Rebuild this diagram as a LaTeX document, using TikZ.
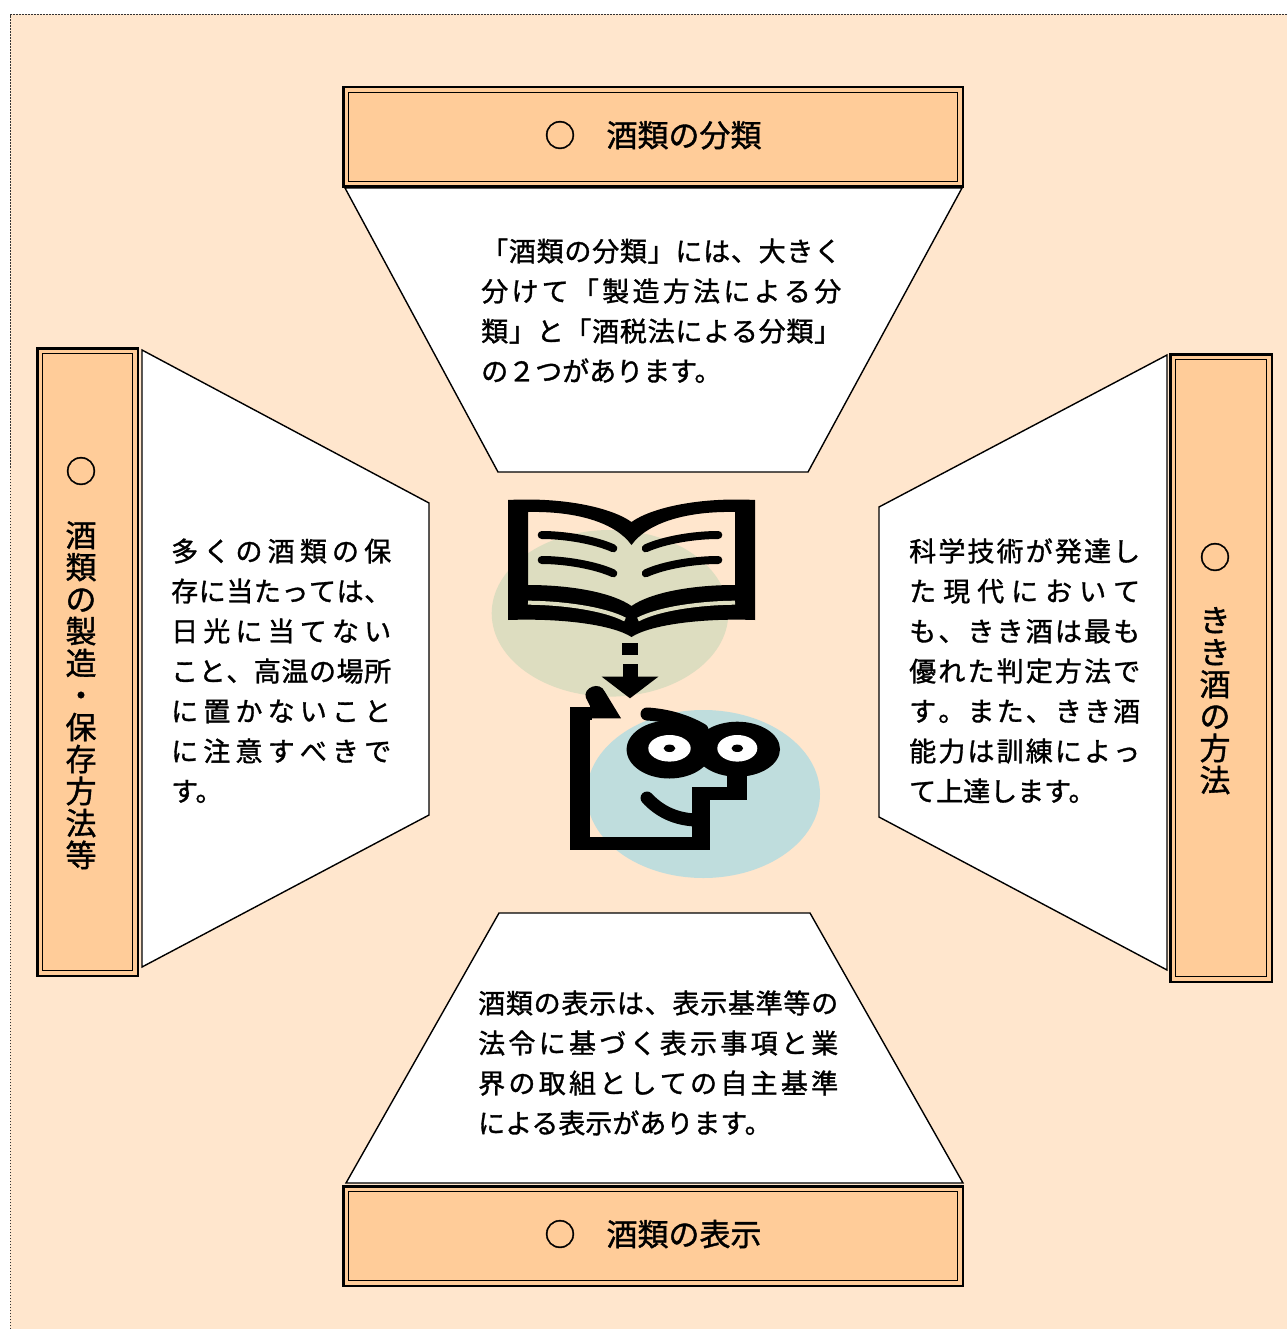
\documentclass[tikz,border=0pt]{standalone}
\usepackage{fontspec}
\newfontfamily\jp[FakeBold=1.2]{Noto Sans CJK JP}
\definecolor{bgpeach}{RGB}{255,230,205}
\definecolor{boxorange}{RGB}{255,204,153}
\definecolor{ellgreen}{RGB}{221,221,192}
\definecolor{ellblue}{RGB}{191,221,221}
\def\SPx#1{#1\futurelet\SPnext\SPy}
\def\SPy{\ifx\SPnext\SPend\expandafter\SPgobble\else\hfill\expandafter\SPx\fi}
\def\SPgobble#1{}
\def\SPend{\SPend}
\newcommand\spr[2]{\hbox to #1{\SPx#2\SPend}}
\begin{document}
\begin{tikzpicture}[x=1pt,y=-1pt,
  body/.style={font=\jp\fontsize{27}{40}\selectfont, inner sep=0pt, anchor=west, text height=23.8pt, text depth=3.2pt},
  vchar/.style={font=\jp\fontsize{31}{32}\selectfont, inner sep=0pt, text height=27.3pt, text depth=3.7pt},
  titlebox/.style={draw=black, line width=2.5pt, fill=boxorange, inner sep=0pt, outer sep=0pt, font=\jp\fontsize{31}{32}\selectfont, text height=27.3pt, text depth=7.7pt},
  panel/.style={fill=white, draw=black, line width=1.4pt, line join=miter},
  innerframe/.style={draw=black, line width=1.3pt},
]
\useasboundingbox (0,0) rectangle (1287,1329);
% background
\fill[bgpeach] (10,14) rectangle (1287,1329);
\draw[black!80, line width=1.2pt, dash pattern=on 1.5pt off 1.5pt] (10.6,1329) -- (10.6,14.6) -- (1287,14.6);

% panels
\draw[panel] (345,188) -- (962,188) -- (808,472) -- (498,472) -- cycle;
\draw[panel] (142,350) -- (429,503) -- (429,815) -- (142,967) -- cycle;
\draw[panel] (1167,355) -- (879,507) -- (879,817) -- (1167,970) -- cycle;
\draw[panel] (499,913) -- (810,913) -- (963,1183) -- (346,1183) -- cycle;

% title boxes
\node[titlebox, minimum width=619.5pt, minimum height=99.5pt] (tb) at (653,137) {○　酒類の分類};
\draw[innerframe] ([xshift=5.2pt,yshift=-5.2pt]tb.north west) rectangle ([xshift=-5.2pt,yshift=5.2pt]tb.south east);
\node[titlebox, minimum width=619.5pt, minimum height=99.5pt] (bb) at (653,1236) {○　酒類の表示};
\draw[innerframe] ([xshift=5.2pt,yshift=-5.2pt]bb.north west) rectangle ([xshift=-5.2pt,yshift=5.2pt]bb.south east);
\node[titlebox, minimum width=100.5pt, minimum height=627.5pt] (lb) at (87.5,662) {};
\draw[innerframe] ([xshift=5.2pt,yshift=-5.2pt]lb.north west) rectangle ([xshift=-5.2pt,yshift=5.2pt]lb.south east);
\node[titlebox, minimum width=101.5pt, minimum height=627.5pt] (rb) at (1221,668) {};
\draw[innerframe] ([xshift=5.2pt,yshift=-5.2pt]rb.north west) rectangle ([xshift=-5.2pt,yshift=5.2pt]rb.south east);

% vertical titles
\node[vchar] (lo) at (81,471) {○};
\foreach \c [count=\i] in {酒,類,の,製,造,・,保,存,方,法,等}
  \node[vchar] (l\i) at (81,{535+32*(\i-1)}) {\c};
\node[vchar] (ro) at (1215,557) {○};
\foreach \c [count=\i] in {き,き,酒,の,方,法}
  \node[vchar] (r\i) at (1215,{620+32*(\i-1)}) {\c};

% background ellipses of the clipart
\fill[ellgreen] (610,613.3) ellipse [x radius=118.3pt, y radius=83.3pt];
\fill[ellblue] (703.3,794) ellipse [x radius=116.7pt, y radius=84pt];

% book
\fill[black, even odd rule]
  (508,500) .. controls (565,497) and (612,508) .. (631.5,522)
  .. controls (651,508) and (698,497) .. (755,500) -- (755,620)
  .. controls (700,618) and (650,625) .. (631.5,637)
  .. controls (613,625) and (563,618) .. (508,620) -- cycle
  (528,512) .. controls (575,511) and (615,522) .. (631.5,545)
  .. controls (648,522) and (688,511) .. (735,512) -- (735,585)
  .. controls (690,585) and (650,593) .. (631.5,606)
  .. controls (613,593) and (573,585) .. (528,585) -- cycle;
\draw[ellgreen, line width=4pt] (528,602.7) .. controls (565,603) and (605,609) .. (625,619.5);
\draw[ellgreen, line width=4pt] (638,619.5) .. controls (658,609) and (698,603) .. (735,602.7);
\draw[line width=8pt, line cap=round] (541.7,535) .. controls (565,535) and (595,540) .. (613.3,548.3);
\draw[line width=8pt, line cap=round] (541.7,560) .. controls (565,560) and (595,565) .. (613.3,573.3);
\draw[line width=8pt, line cap=round] (645.7,548.3) .. controls (664,540) and (694,535) .. (718.3,535);
\draw[line width=8pt, line cap=round] (645.7,573.3) .. controls (664,565) and (694,560) .. (718.3,560);

% arrow
\fill (622,643.3) rectangle (638.3,655);
\fill (622.7,664) rectangle (638.3,677);
\fill (601.7,676.7) -- (658.3,676.7) -- (630,698.3) -- cycle;

% face
\fill (570,706.7) rectangle (590,850);
\fill (570,836.7) rectangle (710,850);
\fill (691.7,786.7) rectangle (710,850);
\fill (691.7,786.7) rectangle (746.7,800);
\fill (726.7,765) rectangle (746.7,800);
\fill (570,706.7) rectangle (592,720);
\fill (586,698) .. controls (582,688) and (600,680) .. (605,692) -- (621,718.3) -- (592,718.3) -- (590,706) -- cycle;
\fill (669.3,749.5) ellipse [x radius=42.7pt, y radius=29pt];
\fill (737.3,749.2) ellipse [x radius=42.7pt, y radius=27.5pt];
\fill[white] (669.5,748.3) ellipse [x radius=21.2pt, y radius=13.3pt];
\fill[white] (737.3,748.3) ellipse [x radius=20pt, y radius=13.3pt];
\fill (669.5,748.3) ellipse [x radius=5.8pt, y radius=3.7pt];
\fill (737.3,748.3) ellipse [x radius=5.8pt, y radius=3.7pt];
\draw[line width=13pt, line cap=round] (647,714) .. controls (665,715) and (685,720) .. (702,730);
\draw[line width=13pt, line cap=round] (647,798) .. controls (660,812) and (676,819) .. (695,820);

% top text
\node[body] (t1) at (481,251) {\spr{360pt}{「酒類の分類」には、大きく}};
\node[body] (t2) at (481,291) {\spr{360pt}{分けて「製造方法による分}};
\node[body] (t3) at (481,331) {\spr{360pt}{類」と「酒税法による分類」}};
\node[body] (t4) at (481,371) {の２つがあります。};

% left text
\node[body] (a1) at (171,551) {\spr{220pt}{多くの酒類の保}};
\node[body] (a2) at (171,591) {\spr{220pt}{存に当たっては、}};
\node[body] (a3) at (171,631) {\spr{220pt}{日光に当てない}};
\node[body] (a4) at (171,671) {\spr{220pt}{こと、高温の場所}};
\node[body] (a5) at (171,711) {\spr{220pt}{に置かないこと}};
\node[body] (a6) at (171,751) {\spr{220pt}{に注意すべきで}};
\node[body] (a7) at (171,791) {す。};

% right text
\node[body] (b1) at (909,551) {\spr{231pt}{科学技術が発達し}};
\node[body] (b2) at (909,591) {\spr{231pt}{た現代において}};
\node[body] (b3) at (909,631) {\spr{231pt}{も、きき酒は最も}};
\node[body] (b4) at (909,671) {\spr{231pt}{優れた判定方法で}};
\node[body] (b5) at (909,711) {\spr{231pt}{す。また、きき酒}};
\node[body] (b6) at (909,751) {\spr{231pt}{能力は訓練によっ}};
\node[body] (b7) at (909,791) {て上達します。};

% bottom text
\node[body] (c1) at (478,1003) {\spr{360pt}{酒類の表示は、表示基準等の}};
\node[body] (c2) at (478,1043) {\spr{360pt}{法令に基づく表示事項と業}};
\node[body] (c3) at (478,1083) {\spr{360pt}{界の取組としての自主基準}};
\node[body] (c4) at (478,1123) {による表示があります。};
\end{tikzpicture}
\end{document}
